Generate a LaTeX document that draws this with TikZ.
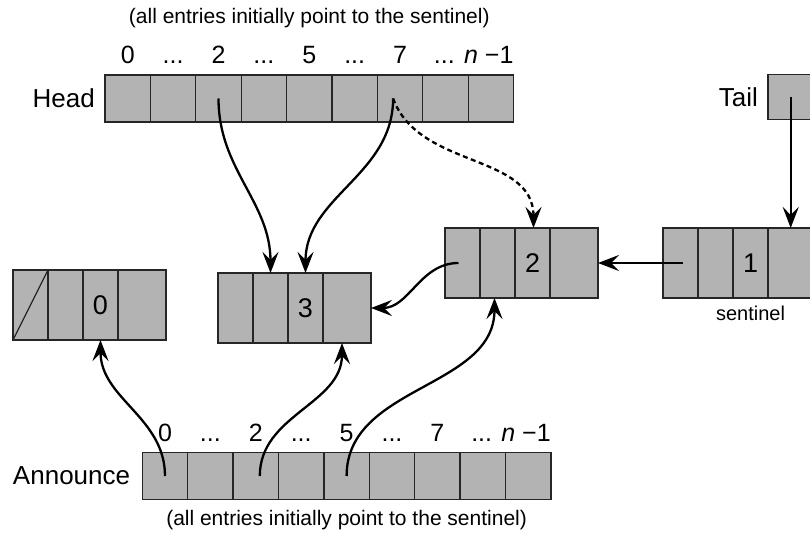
\documentclass[tikz,border=0pt]{standalone}
\usepackage{fontspec}
\setmainfont{Liberation Sans}
\usetikzlibrary{arrows.meta,positioning}

\definecolor{cellgray}{RGB}{179,179,179}

\begin{document}
\begin{tikzpicture}[x=1pt,y=1pt,
  cell/.style={draw=black!85, line width=1.3pt, fill=cellgray, inner sep=0pt, outer sep=0pt, font=\fontsize{27}{27}\selectfont},
  slot/.style={cell, minimum width=45.4pt, minimum height=47pt},
  field/.style={cell, minimum width=35pt, minimum height=70pt},
  idx/.style={anchor=base, inner sep=0pt, font=\fontsize{25}{25}\selectfont},
  lbl/.style={inner sep=0pt, font=\fontsize{26}{26}\selectfont},
  caption/.style={inner sep=0pt, font=\fontsize{21}{21}\selectfont},
  ptr/.style={line width=2.3pt, -{Stealth[length=21pt,width=16pt,inset=8pt]}},
]

\useasboundingbox (0,0) rectangle (810,538);

% Head array
\foreach \i in {0,...,8}
  \node[slot] (h\i) at (127.7+45.4*\i, 439.5) {};
\foreach \i/\t in {0/0,1/.{}.{}.,2/2,3/.{}.{}.,4/5,5/.{}.{}.,6/7}
  \node[idx] at ([yshift=11pt]h\i.north) {\t};
\node[idx, anchor=base east] at ([yshift=11pt]h8.north east) {.{}.{}. \textit{n} −1};
\node[lbl, left=10pt of h0] {Head};
\node[caption] at ([yshift=57pt]h4.north) {(all entries initially point to the sentinel)};

% Announce array
\foreach \i in {0,...,8}
  \node[slot] (a\i) at (165+45.4*\i, 62) {};
\foreach \i/\t in {0/0,1/.{}.{}.,2/2,3/.{}.{}.,4/5,5/.{}.{}.,6/7}
  \node[idx] at ([yshift=11pt]a\i.north) {\t};
\node[idx, anchor=base east] at ([yshift=11pt]a8.north east) {.{}.{}. \textit{n} −1};
\node[lbl, left=12pt of a0] {Announce};
\node[caption] at ([yshift=-21pt]a4.south) {(all entries initially point to the sentinel)};

% Records
\foreach \r/\L/\y/\v in {zero/13/233/0, three/218/230/3, two/445/275/2, sent/663/275/1} {
  \node[field, anchor=west] (\r-1) at (\L,\y) {};
  \node[field, right=0pt of \r-1] (\r-2) {};
  \node[field, right=0pt of \r-2] (\r-3) {\v};
  \node[field, minimum width=48pt, right=0pt of \r-3] (\r-4) {};
}
\draw[line width=1.3pt, black!85] (zero-1.south west) -- (zero-1.north east);
\node[lbl, font=\fontsize{20}{20}\selectfont, below=8pt of sent-3] {sentinel};

% Tail
\node[slot, minimum height=45pt] (tail) at (790.7, 441) {};
\node[lbl, left=10pt of tail] {Tail};

% Pointers
\draw[ptr] (h2.center) to[out=-90,in=90] (three-2.north);
\draw[ptr] ([xshift=-7pt]h6.center) to[out=-90,in=90] (three-3.north);
\draw[ptr, dash pattern=on 5pt off 3.5pt] ([xshift=-7pt]h6.center) to[out=-70,in=90] ([xshift=1pt]two-3.north);
\draw[ptr] ([xshift=-4pt]two-1.center) to[out=180,in=0] (three-4.east);
\draw[ptr] ([xshift=2pt]sent-1.center) -- (two-4.east);
\draw[ptr] (tail.center) -- (tail.center |- sent-4.north);
\draw[ptr] (a0.center) to[out=90,in=-90] (zero-3.south);
\draw[ptr] ([xshift=4pt]a2.center) to[out=90,in=-90] ([xshift=-5pt]three-4.south);
\draw[ptr] (a4.center) to[out=90,in=-90] ([xshift=-3pt]two-2.south);

\end{tikzpicture}
\end{document}
